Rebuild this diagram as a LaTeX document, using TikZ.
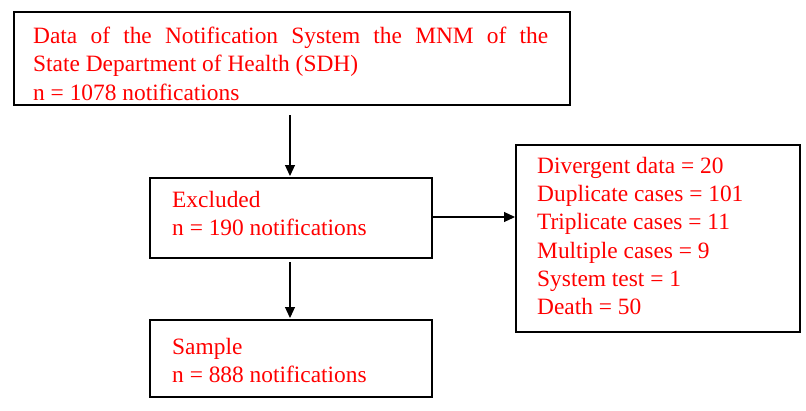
\documentclass[tikz,border=0pt]{standalone}
\usepackage{fontspec}
\setmainfont{Liberation Serif}
\usetikzlibrary{arrows.meta}
\begin{document}
\begin{tikzpicture}[x=1pt,y=-1pt,
  box/.style={draw,line width=2.2pt},
  txt/.style={anchor=north west,align=left,text=red,font=\fontsize{23.4}{28.2}\selectfont,inner sep=0pt},
  arr/.style={line width=1.1pt,-{Triangle[length=11pt,width=10pt]}}]
\useasboundingbox (0,0) rectangle (806,410);
\draw[box] (14,12) rectangle (570,105);
\draw[box] (150,178) rectangle (432,258);
\draw[box] (150,320) rectangle (432,397);
\draw[box] (516,145) rectangle (800,332);
\node[txt] (t1) at (33,27) {\makebox[515pt][s]{Data of the Notification System the MNM of the}\\State Department of Health (SDH)\\n = 1078 notifications};
\node[txt] (t2) at (172,191) {Excluded\\n = 190 notifications};
\node[txt] (t3) at (172,338) {Sample\\n = 888 notifications};
\node[txt] (t4) at (537,157) {Divergent data = 20\\Duplicate cases = 101\\Triplicate cases = 11\\Multiple cases = 9\\System test = 1\\Death = 50};
\coordinate (a1) at (290,115); \coordinate (b1) at (290,176);
\coordinate (a2) at (290,262); \coordinate (b2) at (290,318);
\coordinate (a3) at (432,217); \coordinate (b3) at (515,217);
\draw[arr] (a1) -- (b1);
\draw[arr] (a2) -- (b2);
\draw[arr] (a3) -- (b3);
\end{tikzpicture}
\end{document}
